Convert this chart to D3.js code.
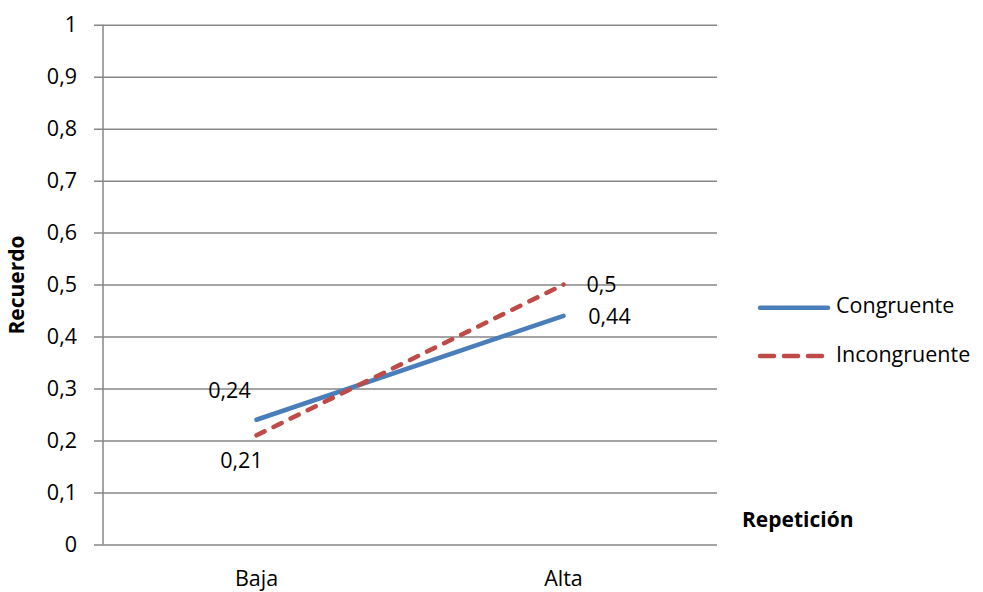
<!DOCTYPE html>
<html>
<head>
<meta charset="utf-8">
<script src="https://cdn.jsdelivr.net/npm/d3@7"></script>
<style>
  html, body { margin: 0; padding: 0; background: #fff; }
  svg text { font-family: "Open Sans", "Liberation Sans", sans-serif; fill: #000; }
</style>
</head>
<body>
<svg id="chart" width="983" height="592"></svg>
<script>
// Recuerdo por nivel de repetición
const categories = ["Baja", "Alta"];
const congruente = [0.24, 0.44];
const incongruente = [0.21, 0.5];
const seriesNames = ["Congruente", "Incongruente"];
const yTicks = [0, 0.1, 0.2, 0.3, 0.4, 0.5, 0.6, 0.7, 0.8, 0.9, 1];

const FS = 21.5;
const svg = d3.select("#chart");
const plot = { left: 103, right: 717, top: 24.7, bottom: 544.5 };

const x = d3.scaleBand().domain(categories).range([plot.left, plot.right]);
const y = d3.scaleLinear().domain([0, 1]).range([plot.bottom, plot.top]);
const fmt = v => String(v).replace(".", ",");

// gridlines + y axis
const yAxis = d3.axisLeft(y).tickValues(yTicks).tickFormat(fmt)
  .tickSize(-(plot.right - plot.left)).tickPadding(26);
const gy = svg.append("g").attr("transform", `translate(${plot.left},0)`).call(yAxis);
gy.select(".domain").remove();
gy.selectAll(".tick line").attr("stroke", "#868686").attr("stroke-width", 1.5).attr("x1", -9);
gy.selectAll(".tick text").attr("font-size", FS).attr("fill", "#000")
  .style("font-family", '"Open Sans", sans-serif');

// vertical axis line
svg.append("line")
  .attr("x1", plot.left).attr("x2", plot.left)
  .attr("y1", plot.top).attr("y2", plot.bottom)
  .attr("stroke", "#868686").attr("stroke-width", 1.5);

// x axis labels
const xAxis = d3.axisBottom(x).tickSize(0).tickPadding(26);
const gx = svg.append("g").attr("transform", `translate(0,${plot.bottom})`).call(xAxis);
gx.select(".domain").remove();
gx.selectAll(".tick text").attr("font-size", FS).attr("fill", "#000")
  .style("font-family", '"Open Sans", sans-serif');

// lines
const line = d3.line().x((d, i) => x(categories[i]) + x.bandwidth() / 2).y(d => y(d));
svg.append("path").datum(congruente).attr("d", line)
  .attr("fill", "none").attr("stroke", "#4a7ebb").attr("stroke-width", 4.5)
  .attr("stroke-linecap", "round");
svg.append("path").datum(incongruente).attr("d", line)
  .attr("fill", "none").attr("stroke", "#be4b48").attr("stroke-width", 4.5)
  .attr("stroke-linecap", "round").attr("stroke-dasharray", "9,10");

// value labels
const cx = i => x(categories[i]) + x.bandwidth() / 2;
const labels = [
  { v: congruente[0], i: 0, dx: -27, dy: -27 },
  { v: incongruente[0], i: 0, dx: -15, dy: 27 },
  { v: incongruente[1], i: 1, dx: 38, dy: 2 },
  { v: congruente[1], i: 1, dx: 46, dy: 2 }
];
svg.append("g").selectAll("text").data(labels).join("text")
  .attr("x", d => cx(d.i) + d.dx)
  .attr("y", d => y(d.v) + d.dy)
  .attr("text-anchor", "middle").attr("dominant-baseline", "middle")
  .attr("font-size", FS).text(d => fmt(d.v));

// legend
const legend = svg.append("g");
const legY = [307.7, 356];
legend.append("line").attr("x1", 760).attr("x2", 828).attr("y1", legY[0]).attr("y2", legY[0])
  .attr("stroke", "#4a7ebb").attr("stroke-width", 4.5).attr("stroke-linecap", "round");
legend.append("line").attr("x1", 760).attr("x2", 828).attr("y1", legY[1]).attr("y2", legY[1])
  .attr("stroke", "#be4b48").attr("stroke-width", 4.5).attr("stroke-linecap", "round")
  .attr("stroke-dasharray", "14,10");
legend.selectAll("text").data(seriesNames).join("text")
  .attr("x", 836).attr("y", (d, i) => legY[i])
  .attr("dominant-baseline", "middle").attr("font-size", FS).text(d => d);

// axis titles
svg.append("text").attr("transform", "translate(18,285) rotate(-90)")
  .attr("text-anchor", "middle").attr("font-size", 21).attr("font-weight", "bold")
  .attr("dominant-baseline", "middle").text("Recuerdo");
svg.append("text").attr("x", 742).attr("y", 521).attr("dominant-baseline", "middle")
  .attr("font-size", 21).attr("font-weight", "bold").text("Repetición");
</script>
</body>
</html>
